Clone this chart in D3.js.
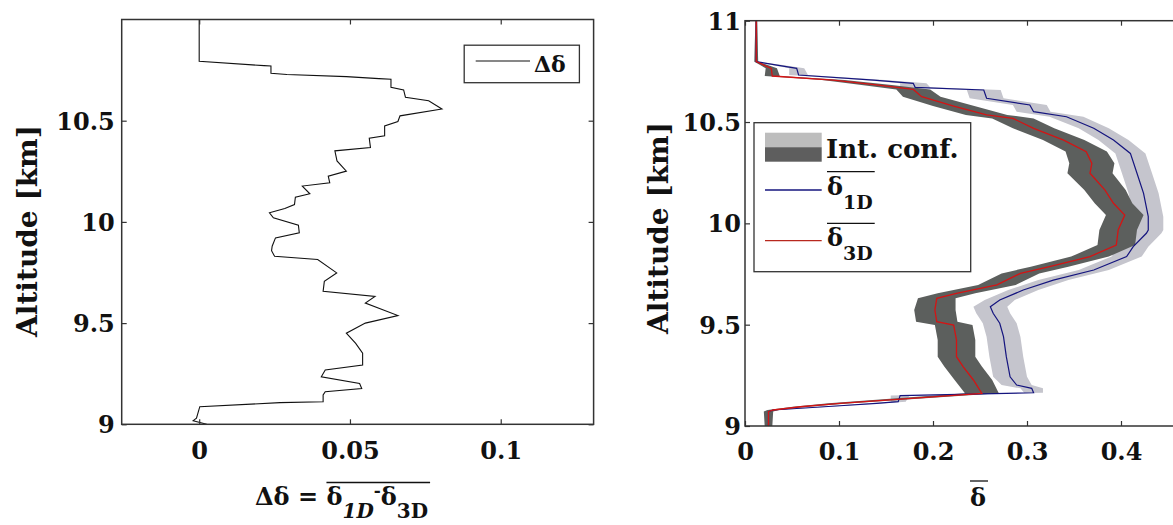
<!DOCTYPE html>
<html>
<head>
<meta charset="utf-8">
<script src="https://cdn.jsdelivr.net/npm/d3@7"></script>
<style>
  body { margin: 0; background: #ffffff; }
  text { font-family: "DejaVu Serif", serif; font-weight: bold; fill: #111; white-space: pre; }
</style>
</head>
<body>
<script>
// left panel : delta = mean(d1D) - mean(d3D) vs altitude
var leftAlt = [11.0, 10.794, 10.772, 10.770, 10.734, 10.728, 10.718, 10.708, 10.705, 10.665,
    10.652, 10.616, 10.599, 10.558, 10.524, 10.496, 10.474, 10.425, 10.413, 10.367,
    10.351, 10.301, 10.251, 10.226, 10.193, 10.177, 10.139, 10.122, 10.086, 10.066,
    10.045, 10.020, 9.984, 9.946, 9.921, 9.880, 9.858, 9.830, 9.814, 9.748,
    9.706, 9.657, 9.632, 9.599, 9.537, 9.500, 9.450, 9.400, 9.351, 9.293,
    9.268, 9.235, 9.202, 9.177, 9.161, 9.145, 9.111, 9.107, 9.087, 9.030,
    9.018, 9.0];
var leftDelta = [0, 0, 0.0215, 0.0238, 0.0238, 0.0291, 0.0488, 0.0596, 0.0636, 0.0636,
    0.0678, 0.0684, 0.0761, 0.0805, 0.0666, 0.0659, 0.0615, 0.0615, 0.0564, 0.0568,
    0.045, 0.0457, 0.0488, 0.0428, 0.0433, 0.0342, 0.0367, 0.0319, 0.0316, 0.0284,
    0.0233, 0.0246, 0.0329, 0.0332, 0.0253, 0.0242, 0.0240, 0.0250, 0.0393, 0.0456,
    0.0415, 0.0411, 0.0583, 0.0551, 0.0659, 0.0551, 0.0488, 0.0519, 0.0542, 0.0542,
    0.0418, 0.0405, 0.0532, 0.0539, 0.0418, 0.0411, 0.0411, 0.0268, 0.0002, -0.0009,
    -0.002, 0.0025];

// right panel : mean delta 3D with its confidence half width
var alt3D = [11.0, 10.798, 10.765, 10.727, 10.707, 10.683, 10.661, 10.625, 10.579, 10.535,
    10.518, 10.469, 10.411, 10.354, 10.296, 10.247, 10.164, 10.099, 10.041, 9.967,
    9.893, 9.836, 9.786, 9.753, 9.696, 9.655, 9.630, 9.572, 9.515, 9.498,
    9.424, 9.342, 9.293, 9.227, 9.161, 9.112, 9.095, 9.079, 9.071, 9.0];
var d3D = [0.012, 0.012, 0.028, 0.029, 0.094, 0.140, 0.179, 0.188, 0.222, 0.257,
    0.285, 0.307, 0.339, 0.363, 0.369, 0.367, 0.383, 0.392, 0.404, 0.397,
    0.395, 0.367, 0.324, 0.293, 0.268, 0.225, 0.204, 0.202, 0.204, 0.222,
    0.225, 0.225, 0.232, 0.243, 0.252, 0.101, 0.059, 0.030, 0.025, 0.025];
var ci3D = [0.001, 0.002, 0.006, 0.008, 0.012, 0.016, 0.018, 0.020, 0.022, 0.022,
    0.022, 0.022, 0.022, 0.022, 0.024, 0.024, 0.022, 0.020, 0.020, 0.020,
    0.020, 0.020, 0.020, 0.020, 0.020, 0.020, 0.020, 0.022, 0.022, 0.020,
    0.020, 0.020, 0.020, 0.020, 0.018, 0.012, 0.008, 0.006, 0.005, 0.004];

// mean delta 1D
var alt1D = [11.0, 10.798, 10.781, 10.765, 10.732, 10.707, 10.691, 10.671, 10.658, 10.617,
    10.584, 10.551, 10.526, 10.469, 10.411, 10.345, 10.247, 10.148, 10.033, 9.967,
    9.951, 9.885, 9.836, 9.770, 9.720, 9.671, 9.622, 9.589, 9.556, 9.507,
    9.441, 9.342, 9.243, 9.202, 9.186, 9.164, 9.150, 9.120, 9.112, 9.100,
    9.079, 9.071, 9.0];
var d1D = [0.012, 0.012, 0.034, 0.055, 0.057, 0.137, 0.179, 0.181, 0.254, 0.257,
    0.303, 0.307, 0.342, 0.371, 0.392, 0.410, 0.417, 0.424, 0.429, 0.429,
    0.427, 0.413, 0.406, 0.371, 0.328, 0.296, 0.271, 0.261, 0.264, 0.271,
    0.275, 0.278, 0.282, 0.289, 0.305, 0.307, 0.165, 0.163, 0.140, 0.101,
    0.030, 0.025, 0.025];
var ci1D = [0.001, 0.002, 0.006, 0.008, 0.010, 0.012, 0.014, 0.016, 0.018, 0.018,
    0.018, 0.018, 0.018, 0.016, 0.016, 0.016, 0.016, 0.016, 0.016, 0.016,
    0.016, 0.016, 0.016, 0.016, 0.016, 0.016, 0.016, 0.018, 0.018, 0.018,
    0.018, 0.018, 0.018, 0.016, 0.012, 0.010, 0.010, 0.008, 0.008, 0.006,
    0.005, 0.004, 0.004];

var leftXTicks = [0, 0.05, 0.1];
var leftYTicks = [9, 9.5, 10, 10.5];
var rightXTicks = [0, 0.1, 0.2, 0.3, 0.4];
var rightYTicks = [9, 9.5, 10, 10.5, 11];

const width = 1173;
const height = 525;

var svg = d3.select("body").append("svg")
    .attr("width", width)
    .attr("height", height)
    .style("background-color", "#ffffff");

var frameColor = "#333333";

function drawAxes(x, y, xt, yt, labelRight) {
    var x0 = x.range()[0], x1 = x.range()[1];
    var y0 = y.range()[0], y1 = y.range()[1];

    var bottom = svg.append("g").attr("transform", "translate(0," + y0 + ")")
        .call(d3.axisBottom(x).tickValues(xt).tickSize(-5).tickSizeOuter(0).tickFormat(d => d));
    bottom.selectAll("text").attr("y", 26).attr("dy", "0.35em").style("font-size", "24px");
    svg.append("g").attr("transform", "translate(0," + y1 + ")")
        .call(d3.axisTop(x).tickValues(xt).tickSize(-5).tickSizeOuter(0).tickFormat(""));

    var left = svg.append("g").attr("transform", "translate(" + x0 + ",0)")
        .call(d3.axisLeft(y).tickValues(yt).tickSize(-5).tickSizeOuter(0).tickFormat(d => d));
    left.selectAll("text").attr("x", labelRight).attr("dy", "0.35em").style("font-size", "24px");
    svg.append("g").attr("transform", "translate(" + x1 + ",0)")
        .call(d3.axisRight(y).tickValues(yt).tickSize(-5).tickSizeOuter(0).tickFormat(""));

    svg.selectAll(".domain").remove();
    svg.selectAll(".tick line").attr("stroke", frameColor).attr("stroke-width", 1.2);
    svg.selectAll(".tick text").attr("fill", "#111");

    svg.append("rect")
        .attr("x", x0).attr("y", y1)
        .attr("width", x1 - x0).attr("height", y0 - y1)
        .attr("fill", "none")
        .attr("stroke", frameColor)
        .attr("stroke-width", 1.5);
}

function overline(textSel, fromChar, yLine) {
    var node = textSel.node();
    var n = node.getNumberOfChars();
    var xa = node.getStartPositionOfChar(fromChar).x;
    var xb = node.getEndPositionOfChar(n - 1).x;
    svg.append("line")
        .attr("x1", xa).attr("x2", xb + 2)
        .attr("y1", yLine).attr("y2", yLine)
        .attr("stroke", "#111").attr("stroke-width", 1.3);
}

// ---------------- left panel ----------------
var xL = d3.scaleLinear().domain([-0.0257, 0.1308]).range([121.7, 593.6]);
var yL = d3.scaleLinear().domain([9, 11]).range([424.3, 19.5]);

var leftData = leftAlt.map((a, i) => ({ alt: a, v: leftDelta[i] }));

svg.append("path")
    .datum(leftData)
    .attr("fill", "none")
    .attr("stroke", "#111")
    .attr("stroke-width", 1.1)
    .attr("d", d3.line().x(d => xL(d.v)).y(d => yL(d.alt)));

drawAxes(xL, yL, leftXTicks, leftYTicks, -7);

// legend left
svg.append("rect").attr("x", 464.2).attr("y", 45.2).attr("width", 115.2).attr("height", 37.5)
    .attr("fill", "#fff").attr("stroke", frameColor).attr("stroke-width", 1.3);
svg.append("line").attr("x1", 475.7).attr("x2", 530).attr("y1", 61).attr("y2", 61)
    .attr("stroke", "#111").attr("stroke-width", 1.1);
svg.append("text").attr("x", 534).attr("y", 72).style("font-size", "22px").text("Δδ");

// y label left
svg.append("text")
    .attr("transform", "translate(37,231) rotate(-90)")
    .attr("text-anchor", "middle")
    .style("font-size", "28px")
    .text("Altitude [km]");

// x label left
var xlab = svg.append("text").attr("x", 255).attr("y", 505).style("font-size", "24px");
xlab.append("tspan").text("Δδ = ");
xlab.append("tspan").text("δ");
xlab.append("tspan").attr("dy", 13).style("font-size", "20px").style("font-style", "italic").text("1D");
xlab.append("tspan").attr("dy", -22).style("font-size", "17px").text("-");
xlab.append("tspan").attr("dy", 9).text("δ");
xlab.append("tspan").attr("dy", 13).style("font-size", "20px").text("3D");
overline(xlab, 5, 482.5);

// ---------------- right panel ----------------
var xR = d3.scaleLinear().domain([0, 0.5]).range([745, 1215]);
var yR = d3.scaleLinear().domain([9, 11]).range([426, 20.7]);

var data1D = alt1D.map((a, i) => ({ alt: a, v: d1D[i], ci: ci1D[i] }));
var data3D = alt3D.map((a, i) => ({ alt: a, v: d3D[i], ci: ci3D[i] }));

var band = d3.area()
    .y(d => yR(d.alt))
    .x0(d => xR(d.v - d.ci))
    .x1(d => xR(d.v + d.ci));
var line = d3.line().x(d => xR(d.v)).y(d => yR(d.alt));

svg.append("path").datum(data1D).attr("fill", "#c5c5cd").attr("d", band);
svg.append("path").datum(data3D).attr("fill", "#5c5f5d").attr("d", band);
svg.append("path").datum(data1D).attr("fill", "none")
    .attr("stroke", "#14147e").attr("stroke-width", 1.2).attr("d", line);
svg.append("path").datum(data3D).attr("fill", "none")
    .attr("stroke", "#d41414").attr("stroke-width", 1.3).attr("d", line);

drawAxes(xR, yR, rightXTicks, rightYTicks, -4);

// legend right
svg.append("rect").attr("x", 754).attr("y", 122.7).attr("width", 216.7).attr("height", 149)
    .attr("fill", "#fff").attr("stroke", frameColor).attr("stroke-width", 1.3);
svg.append("rect").attr("x", 765).attr("y", 132.7).attr("width", 56.7).attr("height", 14.5)
    .attr("fill", "#bdbdbd");
svg.append("rect").attr("x", 765).attr("y", 147.2).attr("width", 56.7).attr("height", 14.5)
    .attr("fill", "#5e5e5e");
svg.append("text").attr("x", 826).attr("y", 157.5).style("font-size", "26px").text("Int. conf.");

var legendLines = [
    { y: 190, color: "#14147e", sub: "1D", base: 195, bar: 171.7 },
    { y: 240.7, color: "#b8281e", sub: "3D", base: 246, bar: 223.3 }
];
legendLines.forEach(function (l) {
    svg.append("line").attr("x1", 765).attr("x2", 821.7).attr("y1", l.y).attr("y2", l.y)
        .attr("stroke", l.color).attr("stroke-width", 1.3);
    var t = svg.append("text").attr("x", 827).attr("y", l.base).style("font-size", "24px");
    t.append("tspan").text("δ");
    t.append("tspan").attr("dy", 14).style("font-size", "19px").text(l.sub);
    overline(t, 0, l.bar);
});

// y label right
svg.append("text")
    .attr("transform", "translate(668,228) rotate(-90)")
    .attr("text-anchor", "middle")
    .style("font-size", "28px")
    .text("Altitude [km]");

// x label right
var xlabR = svg.append("text").attr("x", 978).attr("y", 506)
    .attr("text-anchor", "middle").style("font-size", "24px").text("δ");
overline(xlabR, 0, 481);
</script>
</body>
</html>
